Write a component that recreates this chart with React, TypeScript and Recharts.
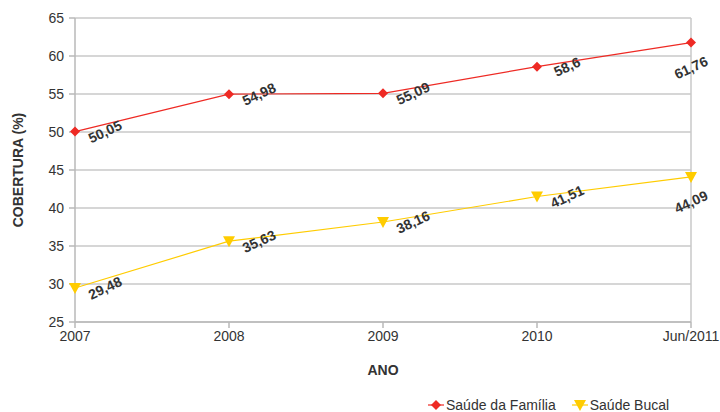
import { LineChart, Line, XAxis, YAxis, CartesianGrid, ReferenceLine } from 'recharts';

const years = ['2007', '2008', '2009', '2010', 'Jun/2011'];
const saudeFamilia = [50.05, 54.98, 55.09, 58.6, 61.76];
const saudeBucal = [29.48, 35.63, 38.16, 41.51, 44.09];
const yTicks = [25, 30, 35, 40, 45, 50, 55, 60, 65];

const RED = '#ee2a24';
const YELLOW = '#ffcc00';
const TEXT = '#333333';
const FONT = '"Liberation Sans", Arial, sans-serif';

const data = years.map((ano, i) => ({
  ano,
  familia: saudeFamilia[i],
  bucal: saudeBucal[i],
}));

const fmt = (v: number) => String(v).replace('.', ',');

function ValueLabel(props: any) {
  const { x, y, value, index } = props;
  const last = index === years.length - 1;
  const cx = last ? x : x + 30;
  const cy = last ? y + 25 : y;
  return (
    <text
      x={cx}
      y={cy}
      transform={`rotate(-25 ${cx} ${cy})`}
      textAnchor="middle"
      dominantBaseline="central"
      fontSize={14}
      fontWeight="bold"
      fontFamily={FONT}
      fill={TEXT}
    >
      {fmt(value)}
    </text>
  );
}

function Diamond(props: any) {
  const { cx, cy } = props;
  return <path d={`M${cx},${cy - 5} L${cx + 5},${cy} L${cx},${cy + 5} L${cx - 5},${cy} Z`} fill={RED} />;
}

function TriangleDown(props: any) {
  const { cx, cy } = props;
  return <path d={`M${cx - 6},${cy - 5} L${cx + 6},${cy - 5} L${cx},${cy + 6} Z`} fill={YELLOW} />;
}

export default function App() {
  return (
    <div style={{ position: 'absolute', left: 0, top: 0, width: 720, height: 412, background: '#fff', fontFamily: FONT }}>
      <LineChart width={720} height={412} data={data} margin={{ top: 18, right: 29, left: 0, bottom: 0 }}>
        <CartesianGrid vertical={false} stroke="#c8c8c8" strokeWidth={1.5} />
        <ReferenceLine x="Jun/2011" stroke="#c8c8c8" strokeWidth={1.5} />
        <XAxis
          dataKey="ano"
          height={90}
          stroke="#b8b8b8"
          strokeWidth={1.5}
          tickSize={6}
          tickMargin={3}
          tick={{ fill: TEXT, fontSize: 14, fontFamily: FONT }}
          label={({ viewBox }: any) => (
            <text
              x={viewBox.x + viewBox.width / 2}
              y={375}
              textAnchor="middle"
              fontSize={14}
              fontWeight="bold"
              fontFamily={FONT}
              fill={TEXT}
            >
              ANO
            </text>
          )}
        />
        <YAxis
          width={75}
          domain={[25, 65]}
          ticks={yTicks}
          interval={0}
          stroke="#b8b8b8"
          strokeWidth={1.5}
          tickSize={6}
          tickMargin={5}
          tick={{ fill: TEXT, fontSize: 14, fontFamily: FONT }}
          label={({ viewBox }: any) => {
            const cy = viewBox.y + viewBox.height / 2;
            return (
              <text
                x={18}
                y={cy}
                transform={`rotate(-90 18 ${cy})`}
                textAnchor="middle"
                dominantBaseline="central"
                fontSize={14}
                fontWeight="bold"
                fontFamily={FONT}
                fill={TEXT}
              >
                COBERTURA (%)
              </text>
            );
          }}
        />
        <Line
          dataKey="familia"
          stroke={RED}
          strokeWidth={1.2}
          dot={<Diamond />}
          activeDot={false}
          label={<ValueLabel />}
          isAnimationActive={false}
        />
        <Line
          dataKey="bucal"
          stroke={YELLOW}
          strokeWidth={1.2}
          dot={<TriangleDown />}
          activeDot={false}
          label={<ValueLabel />}
          isAnimationActive={false}
        />
      </LineChart>
      <div
        style={{
          position: 'absolute',
          left: 428,
          top: 397,
          display: 'flex',
          alignItems: 'center',
          fontSize: 14,
          color: TEXT,
          whiteSpace: 'nowrap',
        }}
      >
        <svg width={16} height={12}>
          <line x1={0} y1={6} x2={16} y2={6} stroke={RED} strokeWidth={1.2} />
          <path d="M8,1 L13,6 L8,11 L3,6 Z" fill={RED} />
        </svg>
        <span style={{ marginLeft: 2, marginRight: 16 }}>Saúde da Família</span>
        <svg width={16} height={12}>
          <line x1={0} y1={6} x2={16} y2={6} stroke={YELLOW} strokeWidth={1.2} />
          <path d="M2,1 L14,1 L8,12 Z" fill={YELLOW} />
        </svg>
        <span style={{ marginLeft: 2 }}>Saúde Bucal</span>
      </div>
    </div>
  );
}
